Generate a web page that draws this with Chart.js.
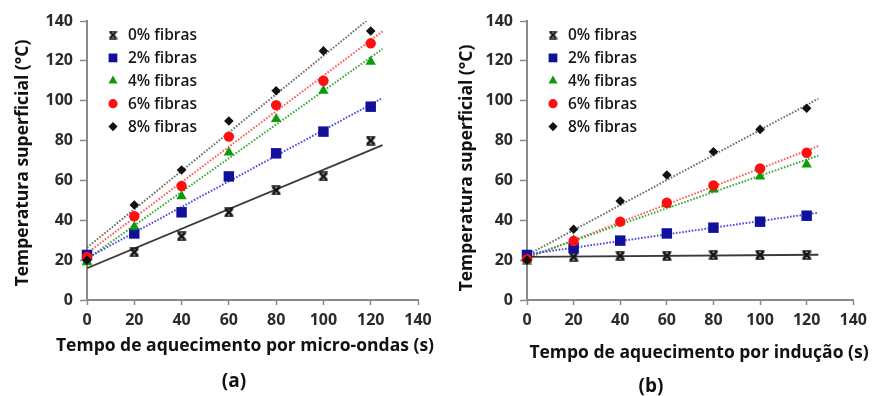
<!DOCTYPE html>
<html>
<head>
<meta charset="utf-8">
<script src="https://cdn.jsdelivr.net/npm/chart.js@4.4.0/dist/chart.umd.min.js"></script>
<style>
  body { margin: 0; background: #fff; }
  #wrap { position: relative; width: 873px; height: 396px; overflow: hidden; }
  canvas { position: absolute; top: 0; }
  #chart-a { left: 0; }
  #chart-b { left: 440px; }
</style>
</head>
<body>
<div id="wrap">
  <canvas id="chart-a" width="440" height="396"></canvas>
  <canvas id="chart-b" width="433" height="396"></canvas>
</div>
<script>
// ---------------------------- Data ------------------------------------------ //
const timeS = [ 0, 20, 40, 60, 80, 100, 120 ];
const fibraLabels = [ "0% fibras", "2% fibras", "4% fibras", "6% fibras", "8% fibras" ];
const axisTicks = [ 0, 20, 40, 60, 80, 100, 120, 140 ];

// (a) micro-ondas
const micro0 = [ 20, 24, 32, 44, 55, 62, 80 ];
const micro2 = [ 22.6, 33.4, 44, 62, 73.6, 84.5, 97 ];
const micro4 = [ 19, 36.8, 52, 74, 90.8, 105, 119.6 ];
const micro6 = [ 21.6, 42, 57.2, 82, 97.8, 110, 128.8 ];
const micro8 = [ 20, 47.7, 65.2, 89.8, 105, 125, 135 ];

// trendline ends, at x = 0 and x = 125
const trendX = [ 0, 125 ];
const microTrend0 = [ 16, 77.7 ];
const microTrend2 = [ 21, 101.3 ];
const microTrend4 = [ 20.5, 126 ];
const microTrend6 = [ 23.5, 134.8 ];
const microTrend8 = [ 26.3, 146.6 ];

// (b) inducao
const inducao0 = [ 21, 21.7, 22.2, 22.2, 22.6, 22.6, 22.6 ];
const inducao2 = [ 22.6, 26, 29.8, 33.4, 36.3, 39.3, 42.3 ];
const inducao4 = [ 19.2, 30, 39, 48, 55.5, 62, 68 ];
const inducao6 = [ 20.5, 29.6, 39.3, 48.8, 57.5, 66, 73.9 ];
const inducao8 = [ 20, 35.5, 49.7, 62.7, 74.4, 85.6, 96.2 ];

const inducTrend0 = [ 21.6, 22.7 ];
const inducTrend2 = [ 22.9, 43.8 ];
const inducTrend4 = [ 21.6, 72.5 ];
const inducTrend6 = [ 21, 77.2 ];
const inducTrend8 = [ 22.5, 101 ];

// ---------------------------- Markers ------------------------------------------ //
//x marker with bars on top and bottom, like the excel one
function makeCross( size ) {
    let c = document.createElement( "canvas" );
    c.width = size;
    c.height = size;
    let g = c.getContext( "2d" );
    g.strokeStyle = "#151515";
    g.lineCap = "butt";
    g.lineWidth = size / 4;
    g.beginPath();
    g.moveTo( 1.5, 1.5 );
    g.lineTo( size - 1.5, size - 1.5 );
    g.moveTo( size - 1.5, 1.5 );
    g.lineTo( 1.5, size - 1.5 );
    g.stroke();
    g.lineWidth = 1.6;
    g.beginPath();
    g.moveTo( 0.5, 1 );
    g.lineTo( size - 0.5, 1 );
    g.moveTo( 0.5, size - 1 );
    g.lineTo( size - 0.5, size - 1 );
    g.stroke();
    return c;
}

const markerStyles = [
    { style: makeCross( 10 ), legendStyle: makeCross( 9 ), color: "#151515", radius: 5, legendRadius: 5 },
    { style: "rect", color: "#10109a", radius: 7.4, legendRadius: 6.2 },
    { style: "triangle", color: "#0d9a0d", radius: 6, legendRadius: 5.2 },
    { style: "circle", color: "#ff1010", radius: 5.2, legendRadius: 4.6 },
    { style: "rectRot", color: "#111111", radius: 4.8, legendRadius: 4.6 }
];

const trendStyles = [
    { color: "#3a3a3a", dash: [] , width: 1.8 },
    { color: "#4b4be6", dash: [ 1.6, 1.6 ], width: 2 },
    { color: "#3aab3a", dash: [ 1.6, 1.6 ], width: 2 },
    { color: "#ff5a5a", dash: [ 1.6, 1.6 ], width: 2 },
    { color: "#6e6e6e", dash: [ 1.6, 1.6 ], width: 2 }
];

function buildDatasets( series, trends ) {
    let sets = [];
    series.forEach( ( vals, i ) => {
        let m = markerStyles[ i ];
        sets.push( {
            type: "scatter",
            label: fibraLabels[ i ],
            legendRow: i,
            data: timeS.map( ( t, k ) => ( { x: t, y: vals[ k ] } ) ),
            pointStyle: m.style,
            legendStyle: m.legendStyle || m.style,
            legendRadius: m.legendRadius,
            pointRadius: m.radius,
            pointHoverRadius: m.radius,
            backgroundColor: m.color,
            borderColor: m.color,
            pointBorderWidth: 0,
            clip: false,
            order: 4 - i
        } );
    } );
    trends.forEach( ( ends, i ) => {
        let t = trendStyles[ i ];
        sets.push( {
            type: "line",
            label: "trend " + fibraLabels[ i ],
            data: trendX.map( ( x, k ) => ( { x: x, y: ends[ k ] } ) ),
            borderColor: t.color,
            borderDash: t.dash,
            borderWidth: t.width,
            pointRadius: 0,
            fill: false,
            clip: 0,
            order: 10 + i
        } );
    } );
    return sets;
}

// ---------------------------- Legend + titles plugin ------------------------------------------ //
const panelText = {
    id: "panelText",
    afterDraw( chart, args, opts ) {
        let ctx = chart.ctx;
        let a = chart.chartArea;
        ctx.save();
        chart.data.datasets.forEach( d => {
            if ( d.legendRow === undefined ) return;
            let y = a.top + 14 + d.legendRow * 22.9;
            ctx.fillStyle = d.backgroundColor;
            ctx.strokeStyle = d.borderColor;
            Chart.helpers.drawPoint( ctx, { pointStyle: d.legendStyle, radius: d.legendRadius, rotation: 0, borderWidth: 0 }, a.left + 26, y );
            ctx.fillStyle = "#161616";
            ctx.font = "600 15.5px 'Open Sans'";
            ctx.textAlign = "left";
            ctx.textBaseline = "middle";
            ctx.fillText( d.label, a.left + 41, y + 1 );
        } );

        ctx.fillStyle = "#111";
        ctx.font = "bold " + opts.titleSize + "px 'Open Sans'";
        ctx.textAlign = "center";
        ctx.textBaseline = "middle";
        ctx.fillText( opts.xTitle, opts.xTitleX, opts.xTitleY );

        ctx.save();
        ctx.translate( opts.yTitleX, opts.yTitleY );
        ctx.rotate( -Math.PI / 2 );
        ctx.fillText( opts.yTitle, 0, 0 );
        ctx.restore();

        ctx.font = "bold 19px 'Open Sans'";
        ctx.fillText( opts.panel, opts.panelX, opts.panelY );
        ctx.restore();
    }
};

function axisOptions( fitSize, horizontal ) {
    return {
        type: "linear",
        min: 0,
        max: 140,
        afterBuildTicks: s => { s.ticks = axisTicks.map( v => ( { value: v } ) ); },
        afterFit: s => {
            if ( horizontal ) s.height = fitSize;
            else s.width = fitSize;
        },
        grid: {
            display: true,
            drawOnChartArea: false,
            drawTicks: true,
            tickLength: horizontal ? 5 : 7,
            tickWidth: 1.5,
            tickColor: "#8a8a8a"
        },
        border: { display: true, color: "#8a8a8a", width: 2 },
        ticks: {
            padding: horizontal ? 6 : 7,
            color: "#2b2b2b",
            font: { family: "'Open Sans'", size: 16, weight: "bold" },
            maxRotation: 0,
            autoSkip: false
        }
    };
}

function makeChart( canvas, series, trends, rightPad, text ) {
    return new Chart( canvas, {
        type: "scatter",
        data: { datasets: buildDatasets( series, trends ) },
        options: {
            responsive: false,
            animation: false,
            devicePixelRatio: 1,
            layout: { padding: { top: 21, right: rightPad, bottom: 0, left: 0 } },
            scales: {
                x: axisOptions( 96, true ),
                y: axisOptions( 87, false )
            },
            plugins: {
                legend: { display: false },
                tooltip: { enabled: false },
                panelText: text
            }
        },
        plugins: [ panelText ]
    } );
}

const chart_a = makeChart( document.getElementById( "chart-a" ),
    [ micro0, micro2, micro4, micro6, micro8 ],
    [ microTrend0, microTrend2, microTrend4, microTrend6, microTrend8 ],
    22,
    {
        xTitle: "Tempo de aquecimento por micro-ondas (s)",
        yTitle: "Temperatura superficial (°C)",
        titleSize: 17.5,
        xTitleX: 245, xTitleY: 346,
        yTitleX: 23, yTitleY: 163,
        panel: "(a)", panelX: 234, panelY: 382
    } );

const chart_b = makeChart( document.getElementById( "chart-b" ),
    [ inducao0, inducao2, inducao4, inducao6, inducao8 ],
    [ inducTrend0, inducTrend2, inducTrend4, inducTrend6, inducTrend8 ],
    15,
    {
        xTitle: "Tempo de aquecimento por indução (s)",
        yTitle: "Temperatura superficial (°C)",
        titleSize: 17.5,
        xTitleX: 259, xTitleY: 353,
        yTitleX: 27, yTitleY: 168,
        panel: "(b)", panelX: 211, panelY: 387
    } );
</script>
</body>
</html>
